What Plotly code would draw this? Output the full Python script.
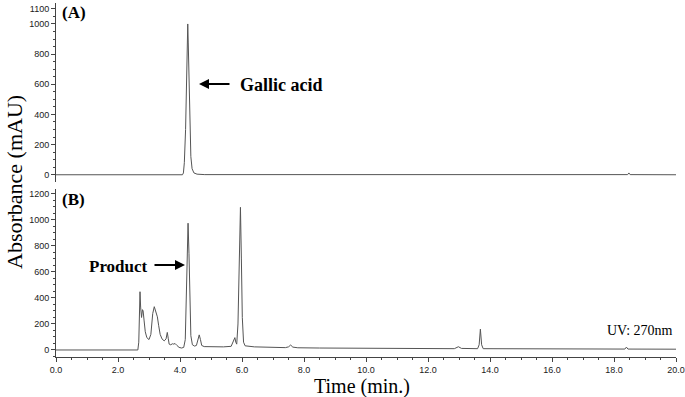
import plotly.graph_objects as go

# ---- Data ----
# (A) Gallic acid standard
time_a = [0.0, 4.08, 4.11, 4.14, 4.18, 4.21, 4.235, 4.25, 4.265, 4.29, 4.32, 4.35,
          4.39, 4.45, 4.55, 4.8, 18.44, 18.48, 18.52, 20.0]
abs_a = [0, 0, 12, 80, 300, 600, 880, 1000, 880, 600, 320, 120,
         40, 12, 4, 1, 1, 12, 1, 0]

# (B) Reaction product
time_b = [0.0, 2.64, 2.67, 2.69, 2.71, 2.73, 2.76, 2.79, 2.81, 2.84, 2.88, 2.93, 3.0,
          3.06, 3.12, 3.17, 3.22, 3.27, 3.31, 3.36, 3.42, 3.49, 3.55, 3.59, 3.62,
          3.65, 3.70, 3.76, 3.80, 3.84, 3.90, 3.97, 4.05, 4.12, 4.17, 4.20, 4.23,
          4.26, 4.29, 4.32, 4.35, 4.40, 4.47, 4.53, 4.58, 4.62, 4.66, 4.70, 4.78,
          5.0, 5.4, 5.65, 5.72, 5.77, 5.80, 5.83, 5.87, 5.91, 5.95, 5.98, 6.01,
          6.05, 6.10, 6.4, 6.9, 6.96, 7.02, 7.4, 7.5, 7.57, 7.64, 7.8, 8.5, 10.0,
          12.0, 12.85, 12.98, 13.08, 13.6, 13.65, 13.69, 13.73, 13.78, 16.0,
          18.35, 18.4, 18.45, 20.0]
abs_b = [0, 0, 60, 300, 448, 330, 250, 310, 300, 230, 140, 95, 80,
         120, 280, 333, 300, 255, 190, 120, 85, 70, 85, 135, 90,
         45, 40, 48, 45, 50, 35, 20, 15, 20, 80, 350, 750,
         975, 740, 340, 110, 40, 30, 35, 80, 116, 80, 35, 26,
         25, 24, 28, 60, 95, 60, 45, 200, 700, 1097, 700, 250,
         60, 32, 24, 20, 25, 20, 18, 24, 38, 22, 17, 15, 12,
         10, 10, 25, 12, 10, 40, 160, 40, 10, 8,
         7, 22, 7, 6]

x_ticks = [0, 2, 4, 6, 8, 10, 12, 14, 16, 18, 20]
y_ticks_a = [0, 200, 400, 600, 800, 1000, 1100]
y_ticks_b = [0, 200, 400, 600, 800, 1000, 1200]

# ---- Figure ----
W, H = 685, 397
L, R, T, B = 56, 9, 3, 40
pw = W - L - R
ph = H - T - B

def px_x(px):
    return (px - L) / pw

def px_y(py):
    return (H - B - py) / ph

line_col = "#555555"
axis_col = "#444444"
tick_font = dict(family="Liberation Sans, Arial", size=9, color="#1a1a1a")

fig = go.Figure()
fig.add_trace(go.Scatter(x=time_a, y=abs_a, mode="lines", xaxis="x2", yaxis="y2",
                         line=dict(color=line_col, width=1), showlegend=False))
fig.add_trace(go.Scatter(x=time_b, y=abs_b, mode="lines", xaxis="x", yaxis="y",
                         line=dict(color=line_col, width=1), showlegend=False))

yax_common = dict(showline=True, linecolor=axis_col, linewidth=1, ticks="outside",
                  ticklen=4, tickcolor=axis_col, tickfont=tick_font, showgrid=False,
                  zeroline=False, automargin=False,
                  minor=dict(dtick=50, ticks="outside", ticklen=2,
                             tickcolor=axis_col, showgrid=False))

fig.update_layout(
    width=W, height=H,
    margin=dict(l=L, r=R, t=T, b=B),
    paper_bgcolor="white", plot_bgcolor="white",
    xaxis=dict(domain=[0, 1], range=[0, 20], showline=True, linecolor=axis_col,
               ticks="outside", ticklen=4, tickcolor=axis_col, tickvals=x_ticks,
               tickformat=".1f", tickfont=tick_font, showgrid=False, zeroline=False,
               automargin=False, ticklabeloverflow="allow",
               minor=dict(dtick=0.5, ticks="outside", ticklen=2, tickcolor=axis_col,
                          showgrid=False),
               anchor="y"),
    xaxis2=dict(domain=[0, 1], range=[0, 20], visible=False, anchor="y2",
                matches="x"),
    yaxis=dict(domain=[0, px_y(189)], range=[-54, 1238], tickvals=y_ticks_b,
               anchor="x", **yax_common),
    yaxis2=dict(domain=[px_y(182), 1], range=[-48, 1139], tickvals=y_ticks_a,
                anchor="x2", **yax_common),
)

serif = "Liberation Serif, Times New Roman, serif"
ann = []
ann.append(dict(text="Absorbance (mAU)", xref="paper", yref="paper", x=px_x(14),
                y=px_y(182), textangle=-90, showarrow=False,
                font=dict(family=serif, size=22, color="black"),
                xanchor="center", yanchor="middle"))
ann.append(dict(text="Time (min.)", xref="paper", yref="paper", x=px_x(362),
                y=px_y(386), showarrow=False,
                font=dict(family=serif, size=20, color="black"),
                xanchor="center", yanchor="middle"))
ann.append(dict(text="<b>(A)</b>", xref="paper", yref="paper", x=px_x(60),
                y=px_y(12), showarrow=False, xanchor="left", yanchor="middle",
                font=dict(family=serif, size=17, color="black")))
ann.append(dict(text="<b>(B)</b>", xref="paper", yref="paper", x=px_x(60),
                y=px_y(200), showarrow=False, xanchor="left", yanchor="middle",
                font=dict(family=serif, size=17, color="black")))
ann.append(dict(text="<b>Gallic acid</b>", xref="paper", yref="paper", x=px_x(238),
                y=px_y(85), showarrow=False, xanchor="left", yanchor="middle",
                font=dict(family=serif, size=18, color="black")))
ann.append(dict(text="<b>Product</b>", xref="paper", yref="paper", x=px_x(150),
                y=px_y(266), showarrow=False, xanchor="right", yanchor="middle",
                font=dict(family=serif, size=17, color="black")))
ann.append(dict(text="UV: 270nm", xref="paper", yref="paper", x=px_x(675),
                y=px_y(330), showarrow=False, xanchor="right", yanchor="middle",
                font=dict(family=serif, size=14, color="black")))
# arrows
ann.append(dict(text="", xref="paper", yref="paper", x=px_x(199), y=px_y(84),
                ax=32, ay=0, showarrow=True, arrowhead=2, arrowsize=1,
                arrowwidth=2, arrowcolor="black"))
ann.append(dict(text="", xref="paper", yref="paper", x=px_x(185), y=px_y(265),
                ax=-32, ay=0, showarrow=True, arrowhead=2, arrowsize=1,
                arrowwidth=2, arrowcolor="black"))
fig.update_layout(annotations=ann)

fig.write_html("out.html",
               config={"displayModeBar": False},
               post_script="document.body.style.margin='0px';"
                           "document.body.style.overflow='hidden';")
